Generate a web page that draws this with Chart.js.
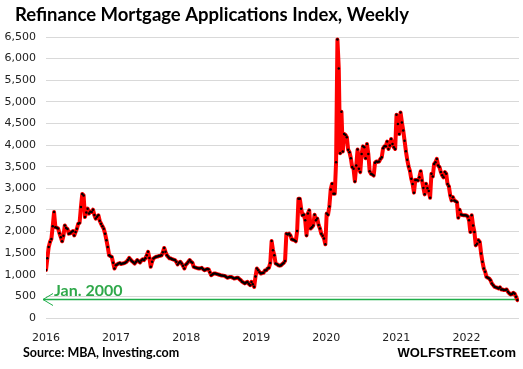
<!DOCTYPE html>
<html>
<head>
<meta charset="utf-8">
<script src="https://cdn.jsdelivr.net/npm/chart.js@4.4.1/dist/chart.umd.min.js"></script>
<style>
  html, body { margin: 0; padding: 0; background: #fff; }
</style>
</head>
<body>
<canvas id="refiChart" width="523" height="369"></canvas>
<script>
// weekly refinance index, one array per year
const startYear = 2016;
const refi2016 = [
  1110, 1380, 1640, 1760, 1830, 2120, 2450, 2100, 2090, 2070,
  1960, 1870, 1775, 1900, 2140, 2080, 2060, 1950, 1960, 1990,
  2010, 1910, 1990, 2065, 2180, 2200, 2565, 2870, 2835, 2335,
  2440, 2530, 2415, 2460, 2450, 2505, 2380, 2300, 2340, 2375,
  2250, 2180, 2120, 2065, 1950, 1800, 1640, 1450, 1430, 1410,
  1280, 1145
];
const refi2017 = [
  1220, 1240, 1260, 1270, 1250, 1260, 1265, 1280, 1300, 1340,
  1390, 1350, 1315, 1290, 1260, 1300, 1340, 1310, 1285, 1330,
  1360, 1340, 1380, 1450, 1530, 1390, 1183, 1300, 1375, 1400,
  1415, 1420, 1435, 1440, 1450, 1520, 1620, 1530, 1450, 1415,
  1380, 1375, 1360, 1350, 1340, 1300, 1240, 1280, 1300, 1260,
  1210, 1145
];
const refi2018 = [
  1230, 1260, 1300, 1340, 1300, 1280, 1183, 1170, 1160, 1150,
  1145, 1150, 1160, 1130, 1105, 1120, 1135, 1130, 1060, 990,
  1010, 1030, 1030, 1020, 1010, 1000, 990, 985, 980, 975,
  955, 930, 940, 950, 950, 930, 915, 920, 930, 930,
  900, 875, 840, 820, 800, 820, 835, 790, 760, 835,
  780, 720
];
const refi2019 = [
  960, 1145, 1105, 1060, 1030, 1040, 1045, 1100, 1105, 1145,
  1160, 1275, 1780, 1570, 1450, 1260, 1245, 1220, 1210, 1220,
  1250, 1275, 1320, 1950, 1930, 1950, 1910, 1820, 1810, 1800,
  1775, 2010, 2760, 2760, 2530, 2375, 2390, 2260, 1910, 2415,
  2490, 2070, 2100, 2140, 2390, 2260, 2300, 2150, 2070, 1950,
  1900, 1840
];
const refi2020 = [
  1705, 2415, 2390, 2580, 2975, 3105, 2875, 2875, 3605, 6445,
  5770, 3810, 4770, 3850, 4255, 4235, 4180, 3890, 3835, 3695,
  3490, 3450, 3160, 3525, 3895, 3450, 3375, 3795, 3970, 3950,
  3695, 4025, 3795, 3395, 3335, 3320, 3295, 3590, 3620, 3610,
  3620, 3680, 3720, 3925, 3970, 3970, 4080, 3910, 3990, 4140,
  4025, 3950
];
const refi2021 = [
  3910, 4700, 4490, 4255, 4755, 4525, 4335, 4100, 3855, 3660,
  3505, 3400, 3220, 3100, 2900, 3195, 3190, 3180, 3255, 3395,
  3180, 3010, 2860, 3105, 3000, 2935, 2780, 3335, 3275, 3565,
  3605, 3680, 3525, 3490, 3375, 3300, 3255, 3375, 3335, 3100,
  3045, 2835, 2720, 2795, 2720, 2700, 2680, 2320, 2505, 2395,
  2380, 2375
];
const refi2022 = [
  2375, 2370, 2350, 2260, 1990, 2375, 2140, 1990, 1680, 1720,
  1800, 1760, 1490, 1300, 1145, 1070, 950, 930, 915, 875,
  800, 760, 720, 710, 700, 685, 710, 660, 660, 645,
  650, 660, 605, 570, 545, 555, 585, 560, 490, 415
];
const yearTicks = [2016, 2017, 2018, 2019, 2020, 2021, 2022];
const jan2000Level = 430;

const weekly = [].concat(refi2016, refi2017, refi2018, refi2019, refi2020, refi2021, refi2022);
// one point per week, x in decimal years
const points = weekly.map((v, i) => ({ x: startYear + i * 7 / 365.25, y: v }));

const extras = {
  id: 'extras',
  beforeDatasetsDraw(chart) {
    const ctx = chart.ctx;
    const area = chart.chartArea;
    const gy = Math.round(chart.scales.y.getPixelForValue(jan2000Level)) + 0.5;
    ctx.save();
    ctx.strokeStyle = '#1fae4a';
    ctx.lineWidth = 1.5;
    ctx.beginPath();
    ctx.moveTo(area.left - 3, gy);
    ctx.lineTo(area.right, gy);
    ctx.stroke();
    ctx.lineWidth = 1;
    ctx.beginPath();
    ctx.moveTo(area.left + 7, gy - 6);
    ctx.lineTo(area.left - 3, gy);
    ctx.lineTo(area.left + 7, gy + 6);
    ctx.stroke();
    ctx.fillStyle = '#2fa84a';
    ctx.font = 'bold 16px Lato';
    ctx.fillText('Jan. 2000', area.left + 8, gy - 3.5);
    ctx.restore();
  },
  afterDraw(chart) {
    const ctx = chart.ctx;
    ctx.save();
    ctx.fillStyle = '#000';
    ctx.font = 'bold 18.5px Lato';
    ctx.textAlign = 'left';
    ctx.fillText('Refinance Mortgage Applications Index, Weekly', 15, 21);
    ctx.font = 'bold 12.5px Lato';
    ctx.fillText('Source: MBA, Investing.com', 23, 357);
    ctx.font = 'bold 13px "Liberation Sans"';
    ctx.textAlign = 'right';
    ctx.fillText('WOLFSTREET.com', 516, 357);
    ctx.restore();
  }
};

new Chart(document.getElementById('refiChart'), {
  type: 'line',
  data: {
    datasets: [{
      label: 'Refinance Index',
      data: points,
      borderColor: '#ff0000',
      borderWidth: 4,
      borderJoinStyle: 'round',
      borderCapStyle: 'round',
      pointRadius: 1.25,
      pointBackgroundColor: '#000',
      pointBorderWidth: 0,
      tension: 0
    }]
  },
  options: {
    responsive: false,
    animation: false,
    layout: { padding: { top: 37, left: 3, right: 3, bottom: 0 } },
    plugins: {
      legend: { display: false },
      tooltip: { enabled: false }
    },
    scales: {
      x: {
        type: 'linear',
        min: 2016,
        max: 2022.75,
        grid: { display: false },
        border: { display: false },
        afterBuildTicks: (scale) => { scale.ticks = yearTicks.map(v => ({ value: v })); },
        afterFit: (scale) => { scale.height = 51; },
        ticks: {
          padding: 6,
          color: '#222',
          font: { family: 'DejaVu Sans', size: 11 },
          maxRotation: 0,
          callback: (v) => String(v)
        }
      },
      y: {
        min: 0,
        max: 6500,
        grid: { color: '#d9d9d9', drawTicks: false },
        border: { display: false },
        afterFit: (scale) => { scale.width = 43; },
        ticks: {
          stepSize: 500,
          padding: 10,
          color: '#222',
          font: { family: 'DejaVu Sans', size: 11 },
          callback: (v) => v.toLocaleString('en-US')
        }
      }
    }
  },
  plugins: [extras]
});
</script>
</body>
</html>
